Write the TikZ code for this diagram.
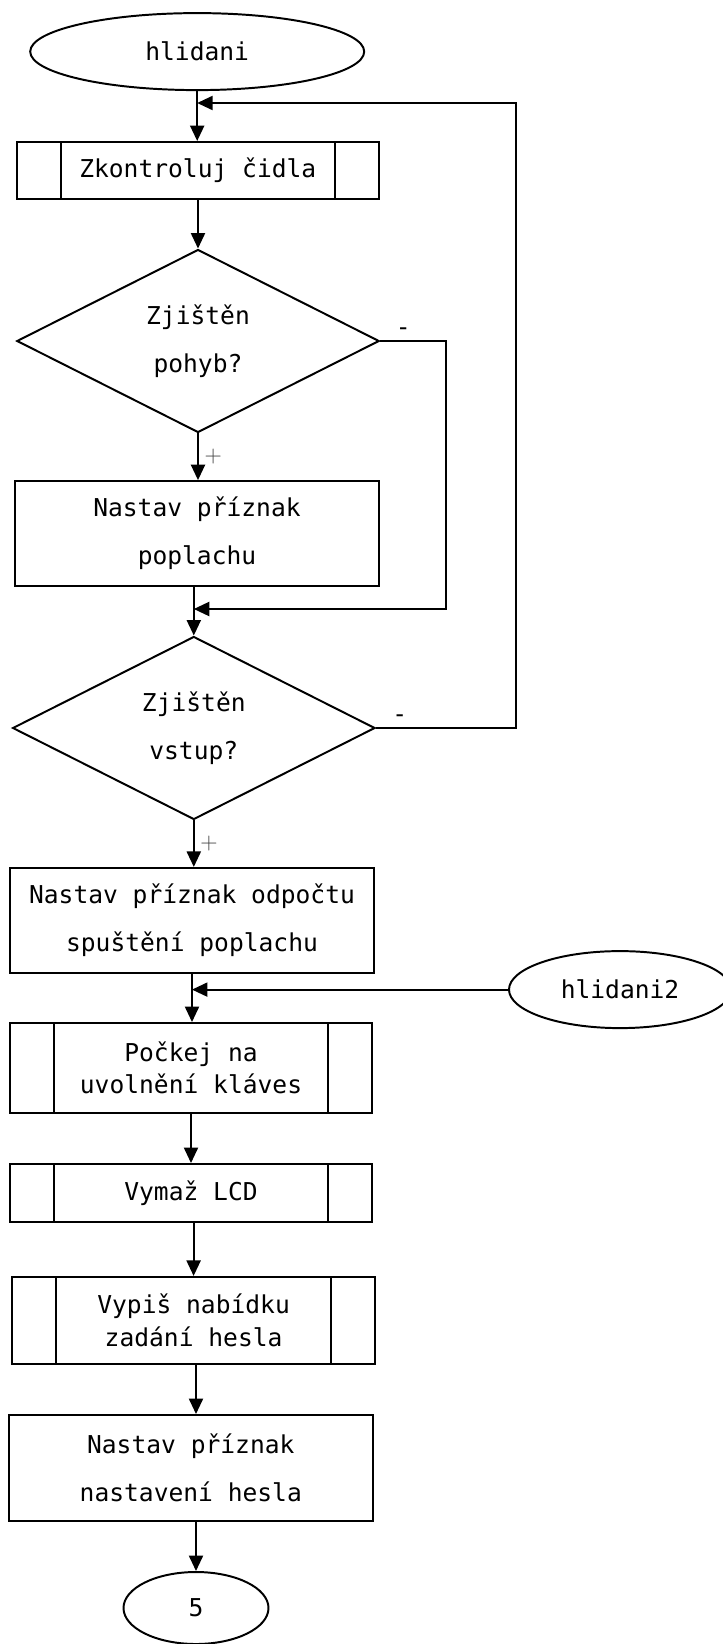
\documentclass[tikz,border=0pt]{standalone}
\usepackage{fontspec}
\setmonofont{DejaVu Sans Mono}
\usetikzlibrary{shapes.geometric,arrows.meta}

\begin{document}
\begin{tikzpicture}[
        base/.style={draw, line width=1.4pt, align=center, font=\ttfamily\fontsize{17.5}{34}\selectfont},
        terminal/.style={base, ellipse, inner sep=0pt},
        proc/.style={base, rectangle, minimum width=9.1cm, minimum height=2.625cm},
        subproc/.style={base, rectangle, minimum width=9.06cm, font=\ttfamily\fontsize{17.5}{23}\selectfont,
            path picture={
                \draw[line width=1.4pt] ([xshift=1.1cm]path picture bounding box.north west) -- ([xshift=1.1cm]path picture bounding box.south west);
                \draw[line width=1.4pt] ([xshift=-1.1cm]path picture bounding box.north east) -- ([xshift=-1.1cm]path picture bounding box.south east);
            }},
        decision/.style={base, diamond, minimum width=9.06cm, minimum height=4.575cm, inner sep=0pt},
        arrow/.style={-{Triangle[length=11pt,width=10pt]}, line width=1.4pt},
        yeslbl/.style={text=black!75, font=\fontsize{17}{20}\selectfont, inner sep=4pt},
        nolbl/.style={font=\ttfamily\fontsize{17.5}{20}\selectfont, inner sep=3pt}
    ]
        \useasboundingbox (0,0) rectangle (18.075,-41.1);

        \node[terminal, minimum width=8.35cm, minimum height=1.925cm] (start) at (4.93,-1.29) {hlidani};
        \node[subproc, minimum height=1.425cm] (sensors) at (4.945,-4.2625) {Zkontroluj čidla};
        \node[decision] (motion) at (4.95,-8.525) {Zjištěn\\pohyb?};
        \node[proc] (alarm) at (4.925,-13.34) {Nastav příznak\\poplachu};
        \node[decision] (entry) at (4.845,-18.2) {Zjištěn\\vstup?};
        \node[proc, minimum width=9.09cm] (countdown) at (4.8,-23.01) {Nastav příznak odpočtu\\spuštění poplachu};
        \node[terminal, minimum width=5.55cm, minimum height=1.925cm] (alt) at (15.5,-24.74) {hlidani2};
        \node[subproc, minimum height=2.25cm] (keys) at (4.775,-26.7) {Počkej na\\uvolnění kláves};
        \node[subproc, minimum height=1.45cm] (clear) at (4.775,-29.825) {Vymaž LCD};
        \node[subproc, minimum height=2.175cm, minimum width=9.075cm] (menu) at (4.84,-33.01) {Vypiš nabídku\\zadání hesla};
        \node[proc, minimum height=2.65cm] (pwflag) at (4.77,-36.7) {Nastav příznak\\nastavení hesla};
        \node[terminal, minimum width=3.625cm, minimum height=1.8cm] (end) at (4.9,-40.2) {5};

        \coordinate (join0) at (4.93,-2.575);
        \coordinate (join1) at (4.845,-15.225);

        \draw[arrow] (start.south) -- (start.south |- sensors.north);
        \draw[arrow] (motion.north |- sensors.south) -- (motion.north);
        \draw[arrow] (motion.south) -- node[yeslbl, right] {+} (motion.south |- alarm.north);
        \draw[arrow] (entry.north |- alarm.south) -- (entry.north);
        \draw[arrow] (entry.south) -- node[yeslbl, right] {+} (entry.south |- countdown.north);
        \draw[arrow] (countdown.south) -- (countdown.south |- keys.north);
        \draw[arrow] (clear.north |- keys.south) -- (clear.north);
        \draw[arrow] (menu.north |- clear.south) -- (menu.north);
        \draw[arrow] (end.north |- menu.south) -- (end.north |- pwflag.north);
        \draw[arrow] (pwflag.south -| end.north) -- (end.north);

        \draw[arrow] (motion.east) -- node[nolbl, above, pos=0.35] {-} ++(1.65,0) |- (join1);
        \draw[arrow] (entry.east) -- node[nolbl, above, pos=0.17] {-} ++(3.5,0) |- (join0);
        \draw[arrow] (alt.west) -- (alt.west -| countdown.south);
    \end{tikzpicture}
\end{document}
